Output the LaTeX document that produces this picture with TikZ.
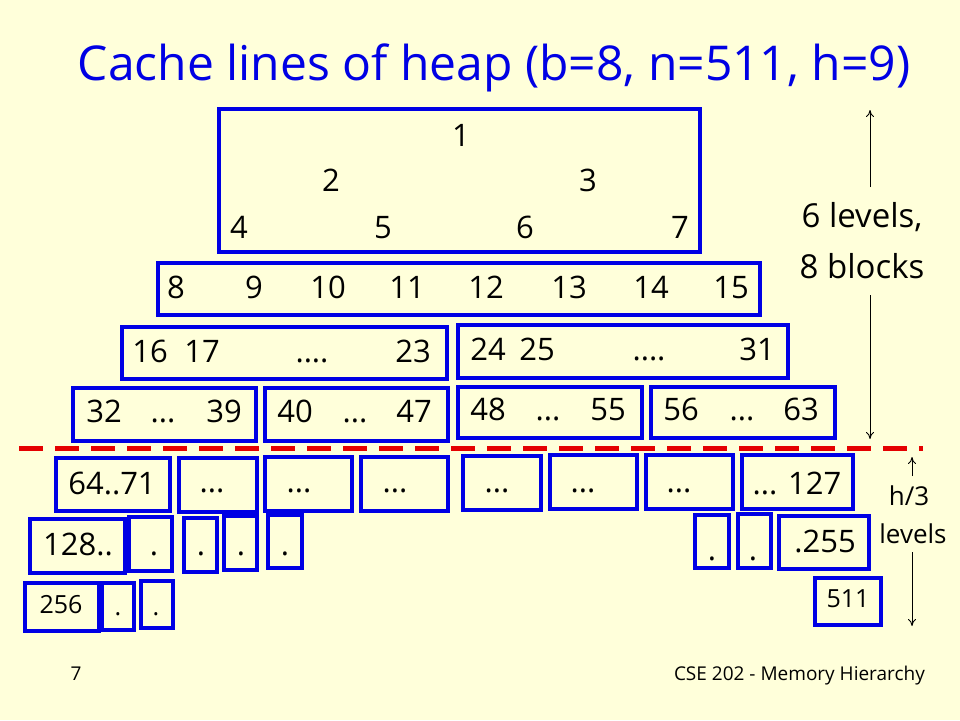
\documentclass[tikz,border=0pt]{standalone}
\usepackage{fontspec}
\setmainfont{Open Sans}
\usetikzlibrary{arrows.meta}
\definecolor{bg}{RGB}{255,255,218}
\definecolor{bblue}{RGB}{0,0,228}
\definecolor{dred}{RGB}{228,0,0}
\newcommand\bx[5]{\node[blk, minimum width={(#4-#2)*1pt}, minimum height={(#5-#3)*1pt}] (#1) at ({(#2+#4)/2},{(#3+#5)/2}) {};}
\tikzset{
  blk/.style={draw=bblue, line width=4pt, rectangle, inner sep=0pt, outer sep=0pt},
  num/.style={anchor=base, inner sep=0pt, font=\fontsize{31}{36}\selectfont},
  small/.style={anchor=base, inner sep=0pt, font=\fontsize{25}{30}\selectfont},
  lbl/.style={anchor=base, inner sep=0pt, font=\fontsize{33}{38}\selectfont},
  lbls/.style={anchor=base, inner sep=0pt, font=\fontsize{26}{30}\selectfont},
  foot/.style={anchor=base, inner sep=0pt, font=\fontsize{19}{23}\selectfont},
  thinarrow/.style={-{To[length=7pt,width=8pt]}, line width=0.9pt},
  cut/.style={draw=dred, line width=5pt, dash pattern=on 24pt off 12pt},
}
\begin{document}
\begin{tikzpicture}[x=1pt,y=-1pt]
\fill[bg] (0,0) rectangle (960,720);
\useasboundingbox (0,0) rectangle (960,720);
% title
\node[anchor=base, inner sep=0pt, text=bblue, font=\fontsize{48}{56}\selectfont] (title) at (494,80) {Cache lines of heap (b=8, n=511, h=9)};
% boxes
\bx{A}{219}{109}{700}{252}
\bx{B}{158}{263}{760}{315}
\bx{C1}{122}{327}{447}{379}
\bx{C2}{458}{325}{788}{378}
\bx{D1}{73}{388}{256}{441}
\bx{D2}{265}{388}{448}{441}
\bx{D3}{458}{387}{642}{438}
\bx{D4}{651}{387}{835}{438}
\bx{E1}{56}{458}{170}{511}
\bx{E2}{179}{458}{257}{512}
\bx{E3}{265}{457}{352}{511}
\bx{E4}{361}{457}{448}{511}
\bx{E5}{463}{456}{541}{510}
\bx{E6}{550}{455}{637}{509}
\bx{E7}{646}{455}{733}{509}
\bx{E8}{742}{455}{853}{509}
\bx{F1}{30}{519}{125}{573}
\bx{F2}{129}{517}{172}{571}
\bx{F3}{184}{518}{217}{572}
\bx{F4}{224}{516}{257}{570}
\bx{F5}{268}{515}{302}{568}
\bx{F6}{695}{515}{729}{568}
\bx{F7}{738}{514}{771}{568}
\bx{F8}{779}{516}{869}{569}
\bx{G1}{25}{583}{99}{631}
\bx{G2}{102}{583}{134}{630}
\bx{G3}{141}{581}{173}{628}
\bx{G4}{815}{578}{881}{625}
% top block numbers
\node[num] (n1) at (461,146) {1};
\node[num] (n2) at (331,191) {2};
\node[num] (n3) at (588,191) {3};
\node[num] (n4) at (239,238) {4};
\node[num] (n5) at (383,238) {5};
\node[num] (n6) at (525,238) {6};
\node[num] (n7) at (680,238) {7};
\node[num] (n8) at (176,298) {8};
\node[num] (n9) at (254,298) {9};
\node[num] (n10) at (328,298) {10};
\node[num] (n11) at (407,298) {11};
\node[num] (n12) at (486,298) {12};
\node[num] (n13) at (569,298) {13};
\node[num] (n14) at (651,298) {14};
\node[num] (n15) at (731,298) {15};
\node[num] (n16) at (150,362) {16};
\node[num] (n17) at (202,362) {17};
\node[num] (c1d) at (312,362) {....};
\node[num] (n23) at (413,362) {23};
\node[num] (n24) at (488,360) {24};
\node[num] (n25) at (537,360) {25};
\node[num] (c2d) at (649,360) {....};
\node[num] (n31) at (757,360) {31};
\node[num] (n32) at (104,422) {32};
\node[num] (d1d) at (163,422) {...};
\node[num] (n39) at (224,422) {39};
\node[num] (n40) at (295,422) {40};
\node[num] (d2d) at (355,422) {...};
\node[num] (n47) at (414,422) {47};
\node[num] (n48) at (488,420) {48};
\node[num] (d3d) at (548,420) {...};
\node[num] (n55) at (608,420) {55};
\node[num] (n56) at (681,420) {56};
\node[num] (d4d) at (742,420) {...};
\node[num] (n63) at (801,420) {63};
% lower levels
\node[num] (t64) at (112,494) {64..71};
\node[num] (e2d) at (212,492) {...};
\node[num] (e3d) at (299,492) {...};
\node[num] (e4d) at (395,492) {...};
\node[num] (e5d) at (497,492) {...};
\node[num] (e6d) at (583,492) {...};
\node[num] (e7d) at (679,492) {...};
\node[num] (t127) at (797,494) {... 127};
\node[num] (t128) at (78,555) {128..};
\node[num] (f2d) at (154,555) {.};
\node[num] (f3d) at (201,555) {.};
\node[num] (f4d) at (241,555) {.};
\node[num] (f5d) at (285,555) {.};
\node[num] (f6d) at (712,560) {.};
\node[num] (f7d) at (753,560) {.};
\node[num] (t255) at (825,552) {.255};
\node[small] (t256) at (61,613) {256};
\node[small] (g2d) at (118,615) {.};
\node[small] (g3d) at (156,615) {.};
\node[small] (t511) at (848,607) {511};
% cut line
\coordinate (cutL) at (19,448);
\coordinate (cutR) at (923,448);
\draw[cut] (cutL) -- (cutR);
% right labels
\node[lbl] (lev6) at (862,227) {6 levels,};
\node[lbl] (blk8) at (862,278) {8 blocks};
\coordinate (upTop) at (870,110);
\coordinate (upBot) at (870,439);
\draw[thinarrow] (870,187) -- (upTop);
\draw[thinarrow] (870,295) -- (upBot);
\node[lbls] (h3) at (909,505) {h/3};
\node[lbls] (hlev) at (913,543) {levels};
\coordinate (h3top) at (912,457);
\coordinate (h3bot) at (912,626);
\draw[thinarrow] (912,476) -- (h3top);
\draw[thinarrow] (912,552) -- (h3bot);
% footer
\node[foot] (pg) at (76,680) {7};
\node[foot, anchor=base east] (ft) at (925,680) {CSE 202 - Memory Hierarchy};
\end{tikzpicture}
\end{document}
